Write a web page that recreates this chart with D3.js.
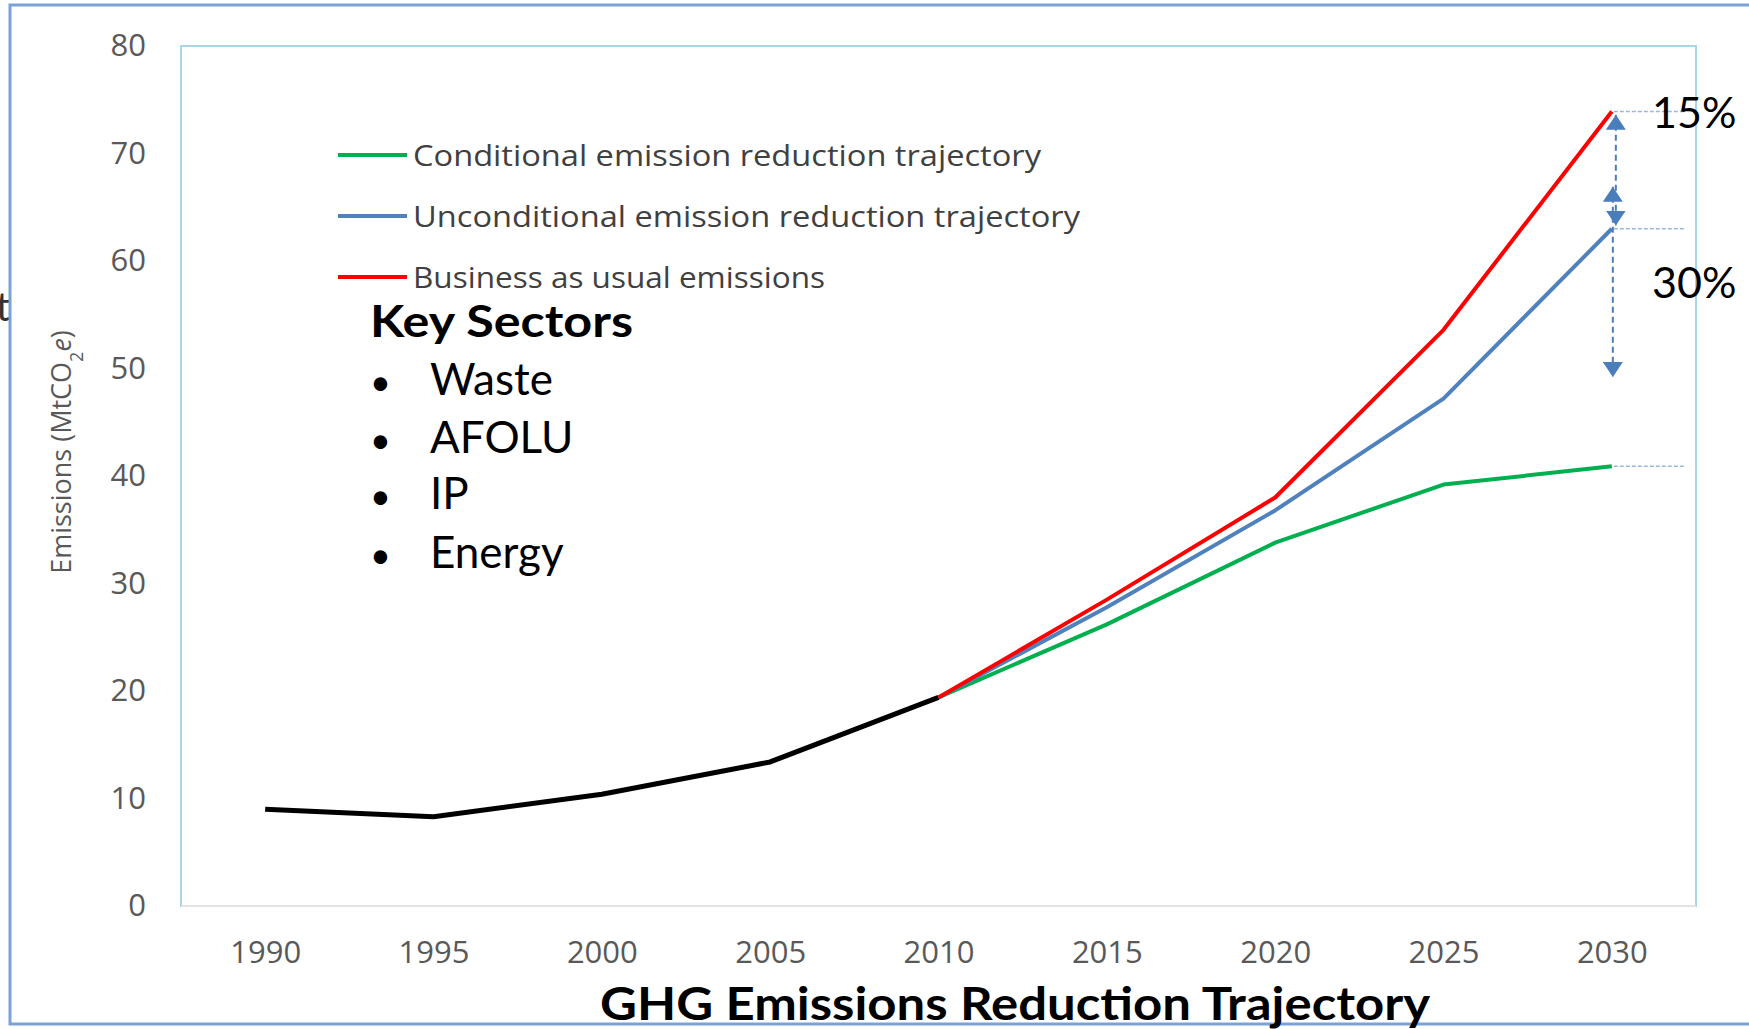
<!DOCTYPE html>
<html>
<head>
<meta charset="utf-8">
<script src="https://cdn.jsdelivr.net/npm/d3@7"></script>
<style>
  body { margin: 0; background: #fff; }
  svg { display: block; }
</style>
</head>
<body>
<div class="chart"></div>
<script>
// values (MtCO2e)
const years = [1990, 1995, 2000, 2005, 2010, 2015, 2020, 2025, 2030]
const historyYears = [1990, 1995, 2000, 2005, 2010]
const historyValues = [9.0, 8.3, 10.4, 13.4, 19.4]
const projectionYears = [2010, 2015, 2020, 2025, 2030]
const conditionalValues = [19.4, 26.2, 33.8, 39.2, 40.9]
const unconditionalValues = [19.4, 27.8, 36.8, 47.2, 63.0]
const bauValues = [19.4, 28.5, 38.0, 53.6, 73.9]
const yTicks = [0, 10, 20, 30, 40, 50, 60, 70, 80]
const seriesNames = [
  "Conditional emission reduction trajectory",
  "Unconditional emission reduction trajectory",
  "Business as usual emissions",
]
const seriesColors = ["#00b050", "#4f81bd", "#ff0000"]
const sectors = ["Waste", "AFOLU", "IP", "Energy"]
const pctLabels = ["15%", "30%"]
const pctArrows = [[73.6, 63.3], [66.9, 49.2]]

function drawChart() {
  const dimensions = {
    width: 1749,
    height: 1029,
    margin: { top: 46, right: 53, bottom: 123, left: 181 },
  }
  dimensions.boundedWidth = dimensions.width
    - dimensions.margin.left
    - dimensions.margin.right
  dimensions.boundedHeight = dimensions.height
    - dimensions.margin.top
    - dimensions.margin.bottom

  const wrapper = d3.select(".chart")
    .append("svg")
    .attr("width", dimensions.width)
    .attr("height", dimensions.height)

  const defs = wrapper.append("defs")
  defs.append("marker")
    .attr("id", "arrow")
    .attr("viewBox", "0 0 10 10")
    .attr("refX", 10)
    .attr("refY", 5)
    .attr("markerUnits", "userSpaceOnUse")
    .attr("markerWidth", 15)
    .attr("markerHeight", 20)
    .attr("preserveAspectRatio", "none")
    .attr("orient", "auto-start-reverse")
    .append("path")
    .attr("d", "M0,0L10,5L0,10Z")
    .attr("fill", "#4a7ebb")

  // cut-off letter on the left edge
  wrapper.append("text")
    .attr("x", 10)
    .attr("y", 321)
    .attr("text-anchor", "end")
    .attr("fill", "#333")
    .style("font-family", "Lato, sans-serif")
    .style("font-size", "40px")
    .text("t")

  // outer frame
  wrapper.append("rect")
    .attr("x", 10)
    .attr("y", 5)
    .attr("width", 1800)
    .attr("height", 1019)
    .attr("fill", "none")
    .attr("stroke", "#7ba1d6")
    .attr("stroke-width", 3)

  const bounds = wrapper.append("g")
    .attr("transform", `translate(${dimensions.margin.left},${dimensions.margin.top})`)

  const xScale = d3.scalePoint()
    .domain(years)
    .range([0, dimensions.boundedWidth])
    .padding(0.5)

  const yScale = d3.scaleLinear()
    .domain([0, 80])
    .range([dimensions.boundedHeight, 0])

  // plot area border
  bounds.append("rect")
    .attr("width", dimensions.boundedWidth)
    .attr("height", dimensions.boundedHeight)
    .attr("fill", "none")
    .attr("stroke", "#a9d5e6")
    .attr("stroke-width", 2)
  bounds.append("line")
    .attr("x1", 0)
    .attr("x2", dimensions.boundedWidth)
    .attr("y1", dimensions.boundedHeight)
    .attr("y2", dimensions.boundedHeight)
    .attr("stroke", "#e2e2e2")
    .attr("stroke-width", 2)

  const yAxis = bounds.append("g")
    .call(d3.axisLeft(yScale).tickValues(yTicks).tickSize(0).tickPadding(35))
  yAxis.select(".domain").remove()
  yAxis.selectAll("text")
    .attr("fill", "#595959")
    .style("font-family", "'Open Sans', sans-serif")
    .style("font-size", "31px")

  const xAxis = bounds.append("g")
    .attr("transform", `translate(0,${dimensions.boundedHeight})`)
    .call(d3.axisBottom(xScale).tickSize(0))
  xAxis.select(".domain").remove()
  xAxis.selectAll("text")
    .attr("y", 57)
    .attr("dy", 0)
    .attr("fill", "#595959")
    .style("font-family", "'Open Sans', sans-serif")
    .style("font-size", "31px")

  const yLabel = wrapper.append("text")
    .attr("transform", "translate(71,452) rotate(-90)")
    .attr("text-anchor", "middle")
    .attr("fill", "#595959")
    .style("font-family", "'Open Sans', sans-serif")
    .style("font-size", "27px")
  yLabel.append("tspan").text("Emissions (MtCO")
  yLabel.append("tspan").attr("baseline-shift", "sub").style("font-size", "18px").text("2")
  yLabel.append("tspan").style("font-style", "italic").text("e")
  yLabel.append("tspan").text(")")

  const lineGenerator = d3.line()
    .x(d => xScale(d[0]))
    .y(d => yScale(d[1]))

  bounds.append("path")
    .attr("d", lineGenerator(d3.zip(historyYears, historyValues)))
    .attr("fill", "none")
    .attr("stroke", "#000")
    .attr("stroke-width", 5)
    .attr("stroke-linejoin", "round")

  const projections = [conditionalValues, unconditionalValues, bauValues]
  projections.forEach((values, i) => {
    bounds.append("path")
      .attr("d", lineGenerator(d3.zip(projectionYears, values)))
      .attr("fill", "none")
      .attr("stroke", seriesColors[i])
      .attr("stroke-width", 4)
      .attr("stroke-linejoin", "round")
  })

  // dotted guides from the 2030 end points
  const x2030 = xScale(2030)
  projections.forEach(values => {
    bounds.append("line")
      .attr("x1", x2030 + 2)
      .attr("x2", x2030 + 74)
      .attr("y1", yScale(values[values.length - 1]))
      .attr("y2", yScale(values[values.length - 1]))
      .attr("stroke", "#9db6dd")
      .attr("stroke-width", 1.5)
      .attr("stroke-dasharray", "4 2")
  })

  // double arrows
  pctArrows.forEach((a, i) => {
    bounds.append("line")
      .attr("x1", x2030 + (i === 0 ? 4 : 1))
      .attr("x2", x2030 + (i === 0 ? 4 : 1))
      .attr("y1", yScale(a[0]))
      .attr("y2", yScale(a[1]))
      .attr("stroke", "#4a7ebb")
      .attr("stroke-width", 2)
      .attr("stroke-dasharray", "6 4")
      .attr("marker-start", "url(#arrow)")
      .attr("marker-end", "url(#arrow)")
  })

  const pctY = [128, 298]
  wrapper.selectAll(".pct")
    .data(pctLabels)
    .enter().append("text")
    .attr("x", 1652)
    .attr("y", (d, i) => pctY[i])
    .attr("fill", "#000")
    .style("font-family", "Lato, sans-serif")
    .style("font-size", "43px")
    .text(d => d)

  // legend
  const legendWidths = [628, 667, 412]
  const legend = wrapper.append("g")
    .attr("transform", "translate(338,155)")
  seriesNames.forEach((name, i) => {
    const row = legend.append("g")
      .attr("transform", `translate(0,${i * 61})`)
    row.append("line")
      .attr("x1", 0)
      .attr("x2", 69)
      .attr("stroke", seriesColors[i])
      .attr("stroke-width", 4)
    row.append("text")
      .attr("x", 75)
      .attr("dy", "0.36em")
      .attr("fill", "#404040")
      .attr("textLength", legendWidths[i])
      .attr("lengthAdjust", "spacingAndGlyphs")
      .style("font-family", "'Open Sans', sans-serif")
      .style("font-size", "30px")
      .text(name)
  })

  // key sectors box
  wrapper.append("text")
    .attr("x", 370)
    .attr("y", 337)
    .attr("fill", "#000")
    .attr("textLength", 263)
    .attr("lengthAdjust", "spacingAndGlyphs")
    .style("font-family", "Lato, sans-serif")
    .style("font-weight", "bold")
    .style("font-size", "43px")
    .text("Key Sectors")

  const sectorY = [395, 453, 509, 568]
  sectors.forEach((s, i) => {
    wrapper.append("text")
      .attr("x", 370)
      .attr("y", sectorY[i])
      .style("font-family", "Lato, sans-serif")
      .style("font-size", "36px")
      .text("\u2022")
    wrapper.append("text")
      .attr("x", 430)
      .attr("y", sectorY[i])
      .attr("fill", "#000")
      .style("font-family", "Lato, sans-serif")
      .style("font-size", "44px")
      .text(s)
  })

  wrapper.append("text")
    .attr("x", 600)
    .attr("y", 1020)
    .attr("fill", "#000")
    .attr("textLength", 830)
    .attr("lengthAdjust", "spacingAndGlyphs")
    .style("font-family", "Lato, sans-serif")
    .style("font-weight", "bold")
    .style("font-size", "45px")
    .text("GHG Emissions Reduction Trajectory")
}

drawChart()
</script>
</body>
</html>
